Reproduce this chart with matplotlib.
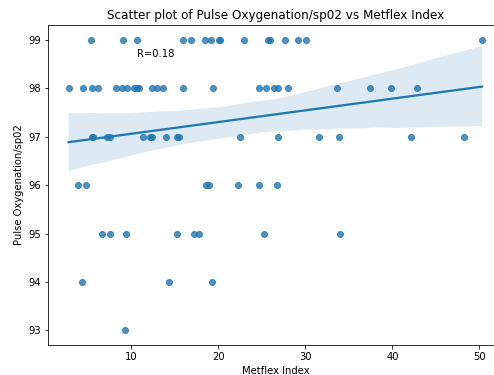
import numpy as np
import matplotlib
matplotlib.use("Agg")
import matplotlib.pyplot as plt
import seaborn as sns

# Metflex index values, grouped by the sp02 reading
metflex_99 = [5.4, 9.0, 10.7, 15.9, 16.8, 18.5, 19.2, 20.1, 20.2, 23.0, 25.7, 25.9, 27.7, 29.2, 30.1, 50.3]
metflex_98 = [2.8, 4.4, 5.5, 6.2, 8.2, 8.9, 9.5, 10.3, 10.7, 10.9, 12.4, 12.9, 13.6, 15.9,
              19.4, 24.7, 25.5, 26.4, 26.9, 28.0, 33.6, 37.4, 39.8, 42.8]
metflex_97 = [5.5, 5.6, 7.2, 7.6, 11.3, 12.1, 12.4, 14.0, 15.3, 15.5, 22.5, 26.8, 31.6, 33.9, 42.1, 48.2]
metflex_96 = [3.9, 4.8, 18.6, 18.9, 22.2, 24.7, 26.7]
metflex_95 = [6.6, 7.6, 9.4, 15.3, 17.2, 17.8, 25.2, 34.0]
metflex_94 = [4.3, 14.3, 19.3]
metflex_93 = [9.3]

groups = {99: metflex_99, 98: metflex_98, 97: metflex_97, 96: metflex_96,
          95: metflex_95, 94: metflex_94, 93: metflex_93}

x = np.concatenate([np.array(v) for v in groups.values()])
y = np.concatenate([np.full(len(v), k) for k, v in groups.items()])

r_value = 0.18

fig = plt.figure(figsize=(494 / 72, 375 / 72), dpi=72)
ax = fig.add_axes([0.0972, 0.08, 0.921, 0.853])

sns.regplot(x=x, y=y, ax=ax)

ax.set_xlim(0.43, 52.7)
ax.set_title("Scatter plot of Pulse Oxygenation/sp02 vs Metflex Index", fontsize=12)
ax.set_xlabel("Metflex Index", fontsize=10)
ax.set_ylabel("Pulse Oxygenation/sp02", fontsize=10)
ax.text(10.7, 98.65, "R=%.2f" % r_value, fontsize=10)

fig.savefig("out.png", dpi=72)
